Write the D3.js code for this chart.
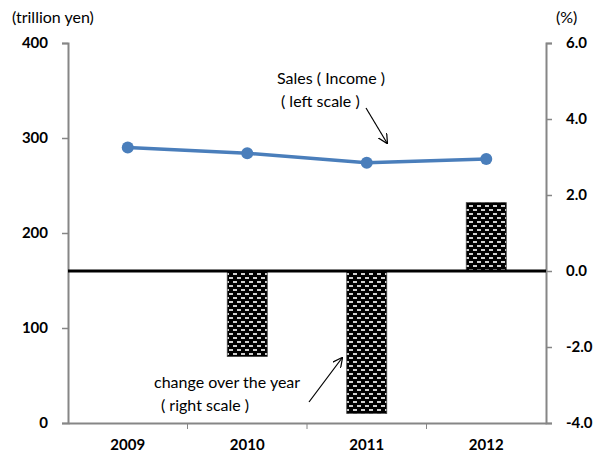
<!DOCTYPE html>
<html>
<head>
<meta charset="utf-8">
<script src="https://cdn.jsdelivr.net/npm/d3@7"></script>
<style>
  body { margin: 0; background: #fff; }
  text { font-family: Lato, "Open Sans", sans-serif; }
</style>
</head>
<body>
<div id="chart"></div>
<script>
// Data
const years = ["2009", "2010", "2011", "2012"];
const sales = [290, 284, 274, 278];          // trillion yen, left scale
const change = [null, -2.25, -3.75, 1.8];    // %, right scale
const leftTicks = [0, 100, 200, 300, 400];
const rightTicks = [-4, -2, 0, 2, 4, 6];

const width = 597;
const height = 454;
const plotLeft = 68, plotRight = 546, plotTop = 43, plotBottom = 423;

const svg = d3.select("#chart")
  .append("svg")
  .attr("width", width)
  .attr("height", height);

// scales
const x = d3.scaleBand()
  .domain(years)
  .range([plotLeft, plotRight]);

const yL = d3.scaleLinear()
  .domain([0, 400])
  .range([plotBottom, plotTop]);

const yR = d3.scaleLinear()
  .domain([-4, 6])
  .range([plotBottom, plotTop]);

// bar fill pattern (black with light dashes)
const defs = svg.append("defs");
const pat = defs.append("pattern")
  .attr("id", "dots")
  .attr("patternUnits", "userSpaceOnUse")
  .attr("width", 8)
  .attr("height", 8);
pat.append("rect").attr("width", 8).attr("height", 8).attr("fill", "#000");
pat.append("rect").attr("x", 1).attr("y", 1).attr("width", 4).attr("height", 2).attr("fill", "#d0d0d0");
pat.append("rect").attr("x", 5).attr("y", 5).attr("width", 4).attr("height", 2).attr("fill", "#d0d0d0");
pat.append("rect").attr("x", -3).attr("y", 5).attr("width", 4).attr("height", 2).attr("fill", "#d0d0d0");

// axes
const gray = "#868686";

const axL = svg.append("g")
  .attr("transform", `translate(${plotLeft},0)`)
  .call(d3.axisLeft(yL).tickValues(leftTicks).tickSize(6).tickPadding(14).tickFormat(d3.format("d")));

const axR = svg.append("g")
  .attr("transform", `translate(${plotRight},0)`)
  .call(d3.axisRight(yR).tickValues(rightTicks).tickSize(6).tickPadding(14).tickFormat(d => d.toFixed(1)));

const axB = svg.append("g")
  .attr("transform", `translate(0,${plotBottom})`)
  .call(d3.axisBottom(x).tickSize(0).tickPadding(14));

// tick marks between categories on the bottom axis
axB.selectAll(".sep")
  .data(years.slice(1))
  .enter().append("line")
  .attr("x1", d => x(d))
  .attr("x2", d => x(d))
  .attr("y1", 0)
  .attr("y2", 6)
  .attr("stroke", gray);

[axL, axR, axB].forEach(a => {
  a.select(".domain").attr("stroke", gray).attr("stroke-width", 2);
  a.selectAll(".tick line").attr("stroke", gray).attr("stroke-width", 1.5);
  a.selectAll(".tick text")
    .attr("fill", "#000")
    .attr("font-size", 15)
    .attr("font-weight", "bold")
    .attr("font-family", "Lato, sans-serif");
});
axB.selectAll(".tick text").attr("dy", "0.85em");

// bars
const bw = 40;
svg.selectAll(".bar")
  .data(years.map((y, i) => ({ year: y, v: change[i] })).filter(d => d.v !== null))
  .enter().append("rect")
  .attr("class", "bar")
  .attr("x", d => x(d.year) + x.bandwidth() / 2 - bw / 2)
  .attr("y", d => yR(Math.max(0, d.v)))
  .attr("width", bw)
  .attr("height", d => Math.abs(yR(d.v) - yR(0)))
  .attr("fill", "url(#dots)")
  .attr("stroke", "#404040")
  .attr("stroke-width", 0.8);

// zero line
svg.append("line")
  .attr("x1", plotLeft)
  .attr("x2", plotRight)
  .attr("y1", yR(0))
  .attr("y2", yR(0))
  .attr("stroke", "#000")
  .attr("stroke-width", 3);

// sales line
const line = d3.line()
  .x((d, i) => x(years[i]) + x.bandwidth() / 2)
  .y(d => yL(d));

svg.append("path")
  .datum(sales)
  .attr("d", line)
  .attr("fill", "none")
  .attr("stroke", "#4a7ebb")
  .attr("stroke-width", 3.5);

svg.selectAll(".pt")
  .data(sales)
  .enter().append("circle")
  .attr("cx", (d, i) => x(years[i]) + x.bandwidth() / 2)
  .attr("cy", d => yL(d))
  .attr("r", 6)
  .attr("fill", "#4a7ebb");

// unit labels
svg.append("text")
  .attr("x", 12)
  .attr("y", 23)
  .attr("font-size", 16)
  .text("(trillion yen)");

svg.append("text")
  .attr("x", 556)
  .attr("y", 23)
  .attr("font-size", 16)
  .text("(%)");

// annotations
svg.append("text")
  .attr("x", 277)
  .attr("y", 84)
  .attr("font-size", 16)
  .text("Sales ( Income )");

svg.append("text")
  .attr("x", 281)
  .attr("y", 107)
  .attr("font-size", 16)
  .text("( left scale )");

svg.append("text")
  .attr("x", 154)
  .attr("y", 388)
  .attr("font-size", 16)
  .text("change over the year");

svg.append("text")
  .attr("x", 161)
  .attr("y", 411)
  .attr("font-size", 16)
  .text("( right scale )");

// arrows
defs.append("marker")
  .attr("id", "arrow")
  .attr("viewBox", "0 0 10 10")
  .attr("refX", 9)
  .attr("refY", 5)
  .attr("markerWidth", 10)
  .attr("markerHeight", 10)
  .attr("markerUnits", "userSpaceOnUse")
  .attr("orient", "auto")
  .append("path")
  .attr("d", "M0,0 L10,5 L0,10")
  .attr("fill", "none")
  .attr("stroke", "#000")
  .attr("stroke-width", 1.2);

svg.append("line")
  .attr("x1", 366).attr("y1", 108)
  .attr("x2", 387).attr("y2", 143)
  .attr("stroke", "#000")
  .attr("stroke-width", 1.2)
  .attr("marker-end", "url(#arrow)");

svg.append("line")
  .attr("x1", 309).attr("y1", 402)
  .attr("x2", 342).attr("y2", 358)
  .attr("stroke", "#000")
  .attr("stroke-width", 1.2)
  .attr("marker-end", "url(#arrow)");
</script>
</body>
</html>
